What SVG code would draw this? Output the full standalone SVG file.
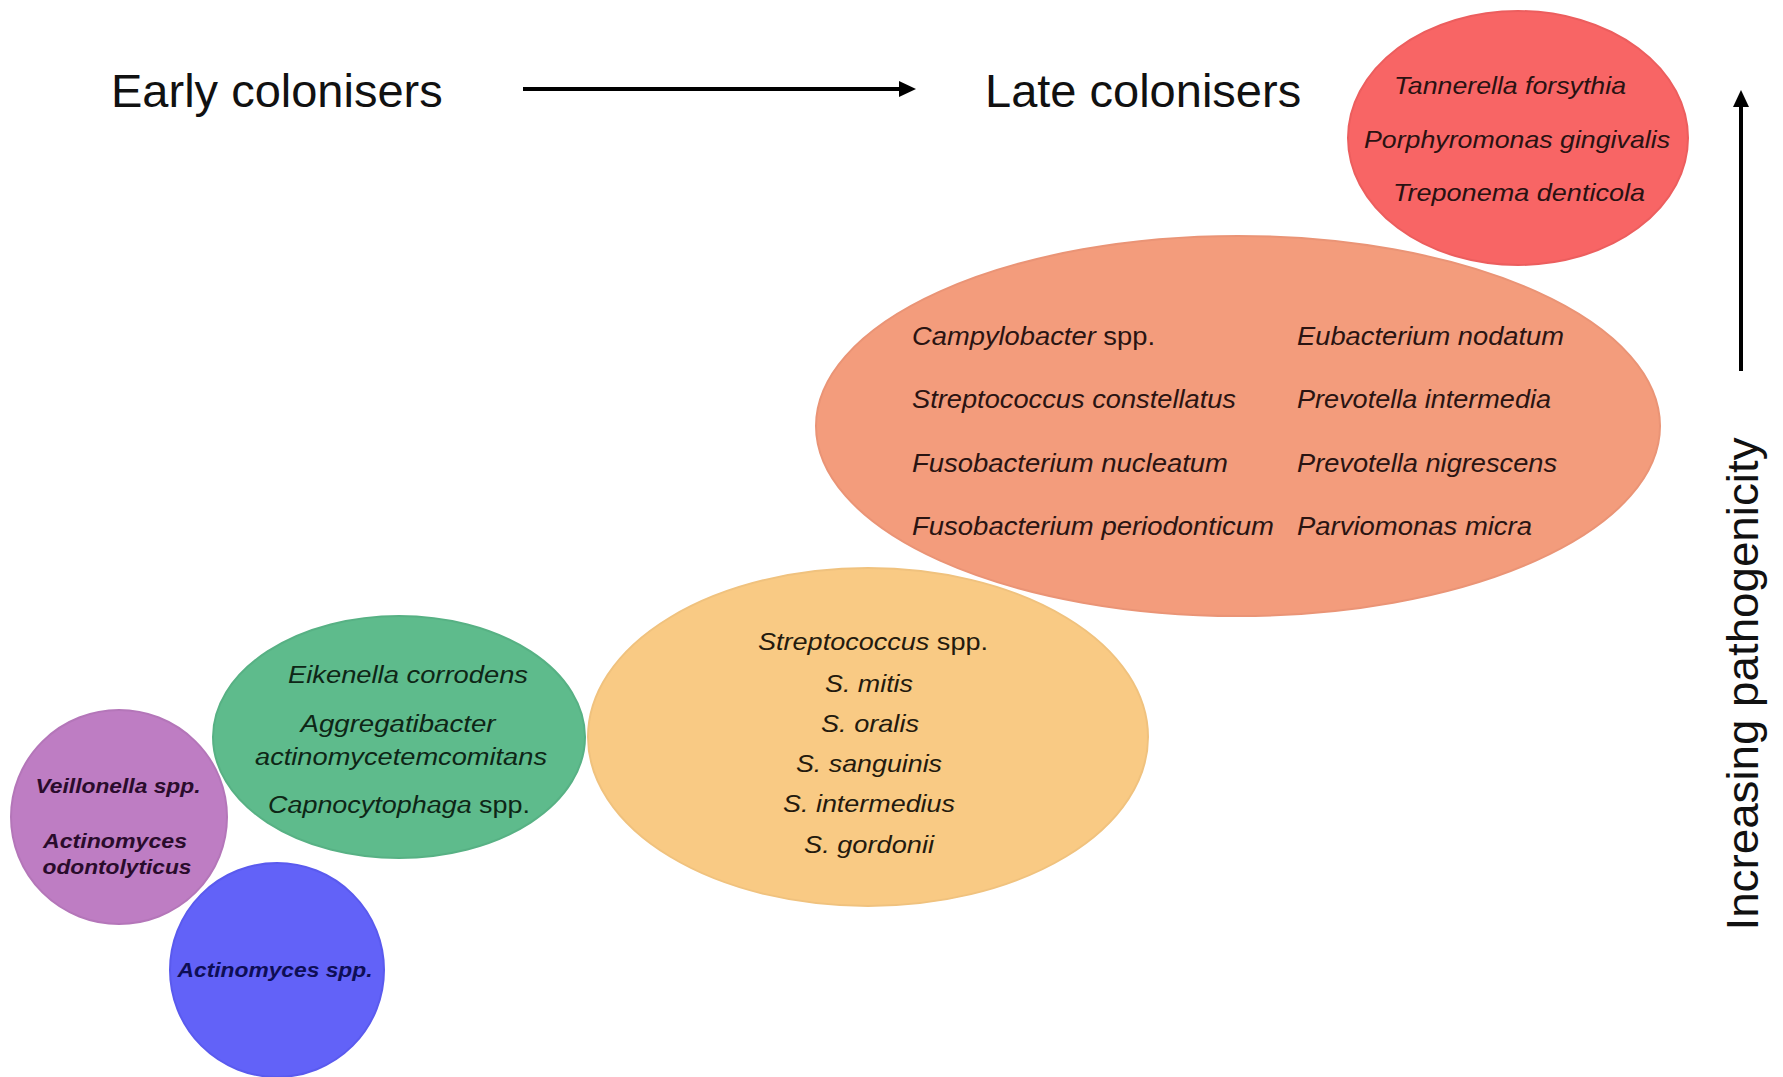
<svg xmlns="http://www.w3.org/2000/svg" width="1783" height="1077" viewBox="0 0 1783 1077">
<style>
  .title { font-family: "Liberation Sans", Arial, sans-serif; font-size: 47px; fill: #111; }
  .axis { font-family: "Liberation Sans", Arial, sans-serif; font-size: 44px; fill: #111; }
  .sp { font-family: "Liberation Sans", Arial, sans-serif; font-style: italic; }
  .up { font-style: normal; }
  .red { font-size: 24px; fill: #2a1212; }
  .sal { font-size: 25px; fill: #2a1412; }
  .yel { font-size: 24px; fill: #241a0e; }
  .grn { font-size: 23px; fill: #0e2616; }
  .pur { font-size: 20px; font-weight: bold; fill: #2a0c2c; }
  .blu { font-size: 20px; font-weight: bold; fill: #0e0e55; }
  .conn { stroke: #000; stroke-width: 4; fill: none; }
</style>
<defs>
  <marker id="head" markerUnits="userSpaceOnUse" markerWidth="17" markerHeight="16" refX="1" refY="8" orient="auto">
    <path d="M0,0 L17,8 L0,16 Z" fill="#000"/>
  </marker>
</defs>
<rect width="1783" height="1077" fill="#fff"/>

<g id="labels">
  <text class="title" x="111" y="107">Early colonisers</text>
  <text class="title" x="985" y="107">Late colonisers</text>
  <text class="axis" transform="translate(1758,684) rotate(-90)" text-anchor="middle" textLength="493" lengthAdjust="spacingAndGlyphs">Increasing pathogenicity</text>
</g>

<g id="connectors">
  <line class="conn" x1="523" y1="89" x2="900" y2="89" marker-end="url(#head)"/>
  <line class="conn" x1="1741" y1="371" x2="1741" y2="106" marker-end="url(#head)"/>
</g>

<g id="node-late-red">
  <ellipse cx="1518" cy="138" rx="170" ry="127" fill="#F86565" stroke="#EC5E5E" stroke-width="2"/>
  <text class="sp red" x="1510" y="94" text-anchor="middle" textLength="232" lengthAdjust="spacingAndGlyphs">Tannerella forsythia</text>
  <text class="sp red" x="1517" y="148" text-anchor="middle" textLength="306" lengthAdjust="spacingAndGlyphs">Porphyromonas gingivalis</text>
  <text class="sp red" x="1519" y="201" text-anchor="middle" textLength="252" lengthAdjust="spacingAndGlyphs">Treponema denticola</text>
</g>

<g id="node-orange">
  <ellipse cx="1238" cy="426" rx="422" ry="190" fill="#F39C7C" stroke="#EA9476" stroke-width="2"/>
  <text class="sp sal" x="912" y="345" textLength="243" lengthAdjust="spacingAndGlyphs">Campylobacter<tspan class="up"> spp.</tspan></text>
  <text class="sp sal" x="912" y="408" textLength="324" lengthAdjust="spacingAndGlyphs">Streptococcus constellatus</text>
  <text class="sp sal" x="912" y="472" textLength="316" lengthAdjust="spacingAndGlyphs">Fusobacterium nucleatum</text>
  <text class="sp sal" x="912" y="535" textLength="362" lengthAdjust="spacingAndGlyphs">Fusobacterium periodonticum</text>
  <text class="sp sal" x="1297" y="345" textLength="267" lengthAdjust="spacingAndGlyphs">Eubacterium nodatum</text>
  <text class="sp sal" x="1297" y="408" textLength="254" lengthAdjust="spacingAndGlyphs">Prevotella intermedia</text>
  <text class="sp sal" x="1297" y="472" textLength="260" lengthAdjust="spacingAndGlyphs">Prevotella nigrescens</text>
  <text class="sp sal" x="1297" y="535" textLength="235" lengthAdjust="spacingAndGlyphs">Parviomonas micra</text>
</g>

<g id="node-yellow">
  <ellipse cx="868" cy="737" rx="280" ry="169" fill="#F9CA84" stroke="#F0C27E" stroke-width="2"/>
  <text class="sp yel" x="873" y="650" text-anchor="middle" textLength="230" lengthAdjust="spacingAndGlyphs">Streptococcus<tspan class="up"> spp.</tspan></text>
  <text class="sp yel" x="869" y="692" text-anchor="middle" textLength="88" lengthAdjust="spacingAndGlyphs">S. mitis</text>
  <text class="sp yel" x="870" y="732" text-anchor="middle" textLength="98" lengthAdjust="spacingAndGlyphs">S. oralis</text>
  <text class="sp yel" x="869" y="772" text-anchor="middle" textLength="146" lengthAdjust="spacingAndGlyphs">S. sanguinis</text>
  <text class="sp yel" x="869" y="812" text-anchor="middle" textLength="172" lengthAdjust="spacingAndGlyphs">S. intermedius</text>
  <text class="sp yel" x="869" y="853" text-anchor="middle" textLength="130" lengthAdjust="spacingAndGlyphs">S. gordonii</text>
</g>

<g id="node-green">
  <ellipse cx="399" cy="737" rx="186" ry="121" fill="#5EBB8C" stroke="#57B184" stroke-width="2"/>
  <text class="sp grn" x="408" y="683" text-anchor="middle" textLength="240" lengthAdjust="spacingAndGlyphs">Eikenella corrodens</text>
  <text class="sp grn" x="398" y="732" text-anchor="middle" textLength="195" lengthAdjust="spacingAndGlyphs">Aggregatibacter</text>
  <text class="sp grn" x="401" y="765" text-anchor="middle" textLength="292" lengthAdjust="spacingAndGlyphs">actinomycetemcomitans</text>
  <text class="sp grn" x="399" y="813" text-anchor="middle" textLength="262" lengthAdjust="spacingAndGlyphs">Capnocytophaga<tspan class="up"> spp.</tspan></text>
</g>

<g id="node-purple">
  <ellipse cx="119" cy="817" rx="108" ry="107" fill="#BE7DC3" stroke="#B476B9" stroke-width="2"/>
  <text class="sp pur" x="118" y="793" text-anchor="middle" textLength="165" lengthAdjust="spacingAndGlyphs">Veillonella spp.</text>
  <text class="sp pur" x="115" y="848" text-anchor="middle" textLength="144" lengthAdjust="spacingAndGlyphs">Actinomyces</text>
  <text class="sp pur" x="117" y="874" text-anchor="middle" textLength="149" lengthAdjust="spacingAndGlyphs">odontolyticus</text>
</g>

<g id="node-blue">
  <ellipse cx="277" cy="970" rx="107" ry="107" fill="#6262F8" stroke="#5A5AEE" stroke-width="2"/>
  <text class="sp blu" x="275" y="977" text-anchor="middle" textLength="195" lengthAdjust="spacingAndGlyphs">Actinomyces spp.</text>
</g>
</svg>
